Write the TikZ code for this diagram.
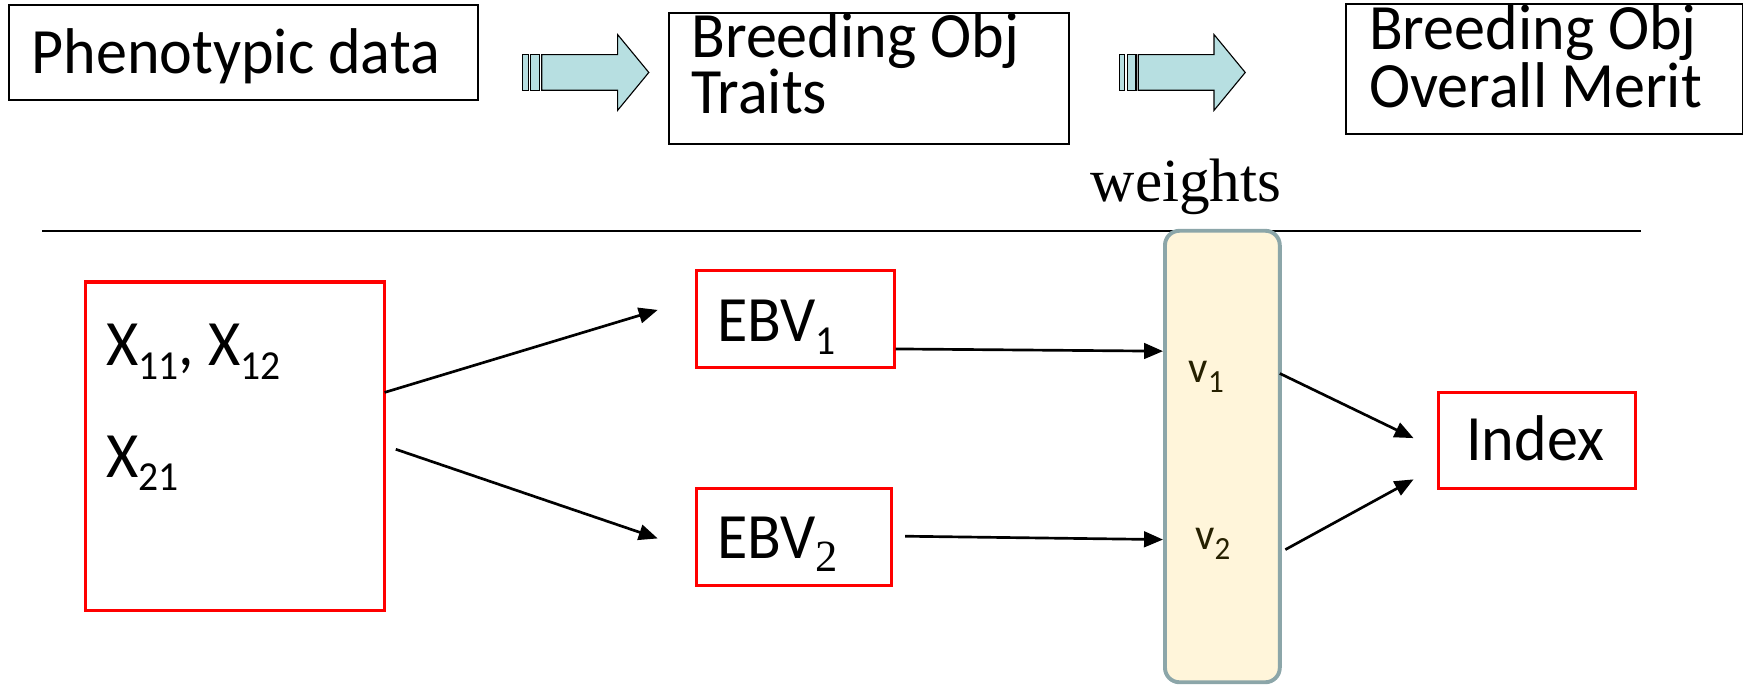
\documentclass[tikz,border=0pt]{standalone}
\usepackage{fontspec}
\setmainfont{Carlito}[FakeStretch=0.96]
\newfontfamily\tnr{Liberation Serif}
\usetikzlibrary{arrows.meta}
\definecolor{boxred}{HTML}{FF0000}
\definecolor{arrfill}{HTML}{B7DFE1}
\definecolor{wfill}{HTML}{FFF5DA}
\definecolor{wline}{HTML}{8CA6A9}
\definecolor{vtext}{HTML}{262000}
\newcommand\mysub[1]{\raisebox{-12pt}{\fontsize{37}{37}\selectfont #1}}
\newcommand\vsub[1]{\raisebox{-9pt}{\fontsize{29}{29}\selectfont #1}}
\tikzset{
  blackbox/.style={draw=black, line width=1.7pt, inner sep=0pt},
  redbox/.style={draw=boxred, line width=2.8pt, inner sep=0pt},
  bigtext/.style={font=\fontsize{58}{43}\selectfont, inner sep=0pt, align=left},
  conn/.style={line width=2.4pt, -{Triangle[length=17pt,width=14pt]}},
  blockarrow/.style={draw=black, line width=1pt, fill=arrfill},
}
\begin{document}
\begin{tikzpicture}[x=1pt,y=-1pt]
\useasboundingbox (0,0) rectangle (1568,613.6);
% top boxes
\node[blackbox, minimum width=421pt, minimum height=85.5pt] (pheno) at (218.5,47.25) {};
\node[bigtext, anchor=base west] (phenot) at (28,66) {Phenotypic data};
\node[blackbox, minimum width=359pt, minimum height=117.6pt] (traits) at (779.5,70.2) {};
\node[bigtext, font=\fontsize{58}{44}\selectfont, anchor=base west] (traitst) at (620,102) {Breeding Obj\\Traits};
\node[blackbox, minimum width=356pt, minimum height=116.4pt] (merit) at (1385,61.8) {};
\node[bigtext, font=\fontsize{58}{47}\selectfont, anchor=base west] (meritt) at (1228,96) {Breeding Obj\\Overall Merit};
% block arrows
\foreach \n/\x in {a1/469, a2/1004}{
  \begin{scope}[shift={(\x,0)}]
    \draw[blockarrow] (0,49) rectangle (5,81);
    \draw[blockarrow] (7,49) rectangle (15,81);
    \draw[blockarrow] (17,49) -- (85,49) -- (85,31) -- (113,65) -- (85,99) -- (85,81) -- (17,81) -- cycle;
    \coordinate (\n) at (57,65);
  \end{scope}
}
% weights
\node[font=\tnr\fontsize{55}{55}\selectfont, inner sep=0pt] (wlabel) at (1064,168) {weights};
\draw[line width=1.5pt] (38,207) coordinate (l1) -- (1472,207) coordinate (l2);
\node[draw=wline, fill=wfill, line width=3.5pt, rounded corners=13pt, minimum width=103pt, minimum height=405pt, inner sep=0pt] (wbox) at (1096.5,409.5) {};
\node[font=\fontsize{40}{40}\selectfont, text=vtext, inner sep=0pt] (v1) at (1082,338) {v\vsub{1}};
\node[font=\fontsize{40}{40}\selectfont, text=vtext, inner sep=0pt] (v2) at (1088,488) {v\vsub{2}};
% bottom boxes
\node[redbox, minimum width=268pt, minimum height=295pt] (xbox) at (211,400.5) {};
\node[bigtext, anchor=base west] (x1) at (95,328) {X\mysub{11}, X\mysub{12}};
\node[bigtext, anchor=base west] (x2) at (95,428) {X\mysub{21}};
\node[redbox, minimum width=177pt, minimum height=87pt] (ebv1) at (713.5,286.5) {};
\node[bigtext, anchor=base west] (ebv1t) at (643,306) {EBV\mysub{1}};
\node[redbox, minimum width=175pt, minimum height=87pt] (ebv2) at (712.5,481.5) {};
\node[bigtext, anchor=base west] (ebv2t) at (643,501) {EBV\raisebox{-12pt}{\tnr\fontsize{40}{40}\selectfont 2}};
\node[redbox, minimum width=177pt, minimum height=86pt] (index) at (1378.5,395) {};
\node[bigtext] (indext) at (1377,393) {Index};
% connectors
\coordinate (s1) at (345,352);
\coordinate (e1) at (590,278);
\coordinate (s2) at (355,403);
\coordinate (e2) at (590,483);
\coordinate (s4) at (812,481);
\coordinate (s5) at (1148,335);
\coordinate (e5) at (1268,393);
\coordinate (s6) at (1153,493);
\coordinate (e6) at (1268,430);
\draw[conn] (s1) -- (e1);
\draw[conn] (s2) -- (e2);
\draw[conn] (ebv1.east |- 0,313) -- (wbox.west |- 0,315);
\draw[conn] (s4) -- (wbox.west |- 0,484);
\draw[conn] (s5) -- (e5);
\draw[conn] (s6) -- (e6);
\end{tikzpicture}
\end{document}
